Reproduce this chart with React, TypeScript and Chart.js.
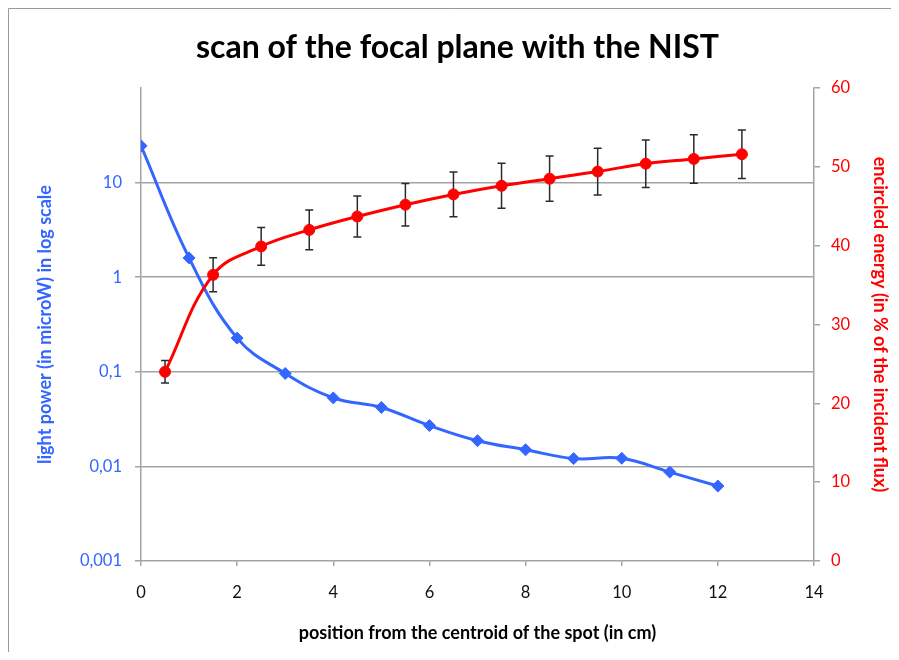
import React, { useEffect, useRef } from 'react';
import { Chart, registerables } from 'chart.js';

Chart.register(...registerables);

const TITLE = 'scan of the focal plane with the NIST';
const X_TITLE = 'position from the centroid of the spot (in cm)';
const Y_LEFT_TITLE = 'light power (in microW) in log scale';
const Y_RIGHT_TITLE = 'encircled energy (in % of the incident flux)';

const powerX = [0, 1, 2, 3, 4, 5, 6, 7, 8, 9, 10, 11, 12];
const powerY = [24.5, 1.6, 0.227, 0.096, 0.053, 0.042, 0.027, 0.0187, 0.015, 0.0121, 0.0122, 0.0087, 0.0062];

const energyX = [0.5, 1.5, 2.5, 3.5, 4.5, 5.5, 6.5, 7.5, 8.5, 9.5, 10.5, 11.5, 12.5];
const energyY = [24.0, 36.3, 39.9, 42.0, 43.7, 45.2, 46.5, 47.6, 48.5, 49.4, 50.4, 51.0, 51.6];
const energyErr = [1.43, 2.16, 2.39, 2.51, 2.6, 2.7, 2.83, 2.86, 2.88, 2.96, 3.01, 3.08, 3.08];

const logTicks = [0.001, 0.01, 0.1, 1, 10, 100];
const logTickLabels = ['0,001', '0,01', '0,1', '1', '10', ''];

const BLUE = '#3366ff';
const RED = '#ff0000';
const GRID = '#a3a3a3';

const errorBars = {
  id: 'errorBars',
  beforeDatasetsDraw(chart: any) {
    const { ctx } = chart;
    const xs = chart.scales.x;
    const yr = chart.scales.yR;
    ctx.save();
    ctx.strokeStyle = '#2a2a2a';
    ctx.lineWidth = 1.5;
    energyX.forEach((xv, i) => {
      const px = xs.getPixelForValue(xv);
      const top = yr.getPixelForValue(energyY[i] + energyErr[i]);
      const bot = yr.getPixelForValue(energyY[i] - energyErr[i]);
      ctx.beginPath();
      ctx.moveTo(px, top);
      ctx.lineTo(px, bot);
      ctx.moveTo(px - 4, top);
      ctx.lineTo(px + 4, top);
      ctx.moveTo(px - 4, bot);
      ctx.lineTo(px + 4, bot);
      ctx.stroke();
    });
    ctx.restore();
  },
};

const frame = {
  id: 'frame',
  beforeDraw(chart: any) {
    const { ctx, width, height } = chart;
    ctx.save();
    ctx.strokeStyle = '#9a9a9a';
    ctx.lineWidth = 1;
    ctx.beginPath();
    ctx.moveTo(0.5, height);
    ctx.lineTo(0.5, 0.5);
    ctx.lineTo(width, 0.5);
    ctx.stroke();
    ctx.restore();
  },
};

export default function App() {
  const ref = useRef<HTMLCanvasElement | null>(null);

  useEffect(() => {
    if (!ref.current) return;
    Chart.defaults.font.family = 'Lato';
    const chart = new Chart(ref.current, {
      type: 'line',
      data: {
        datasets: [
          {
            label: 'encircled energy',
            data: energyX.map((x, i) => ({ x, y: energyY[i] })),
            yAxisID: 'yR',
            borderColor: RED,
            backgroundColor: RED,
            borderWidth: 3,
            pointStyle: 'circle',
            pointRadius: 5.5,
            pointBorderWidth: 1,
            tension: 0.4,
          },
          {
            label: 'light power',
            data: powerX.map((x, i) => ({ x, y: powerY[i] })),
            yAxisID: 'yL',
            borderColor: BLUE,
            backgroundColor: BLUE,
            borderWidth: 3,
            pointStyle: 'rectRot',
            pointRadius: 6,
            pointBorderWidth: 1,
            tension: 0.4,
          },
        ],
      },
      options: {
        animation: false,
        responsive: false,
        layout: { padding: { left: 16, right: 0, top: 0, bottom: 0 } },
        plugins: {
          legend: { display: false },
          tooltip: { enabled: false },
          title: {
            display: true,
            text: TITLE,
            color: '#000',
            font: { family: 'Lato', size: 32, weight: 'bold' },
            padding: { top: 20, bottom: 21.6 },
          },
        },
        scales: {
          x: {
            type: 'linear',
            min: 0,
            max: 14,
            ticks: {
              stepSize: 2,
              color: '#111',
              font: { family: 'Lato', size: 16.5 },
              padding: 17,
            },
            grid: {
              drawOnChartArea: false,
              drawTicks: true,
              tickLength: 5,
              color: GRID,
              lineWidth: 1.5,
            },
            border: { color: GRID, width: 1.5 },
            title: {
              display: true,
              text: X_TITLE,
              color: '#000',
              font: { family: 'Lato', size: 18, weight: 'bold' },
              padding: { top: 0, bottom: 8 },
            },
            afterFit(scale: any) {
              scale.height = 91;
            },
          },
          yL: {
            type: 'logarithmic',
            position: 'left',
            min: 0.001,
            max: 100,
            afterBuildTicks(scale: any) {
              scale.ticks = logTicks.map((v) => ({ value: v }));
            },
            ticks: {
              color: BLUE,
              font: { family: 'Lato', size: 16.5 },
              padding: 13,
              autoSkip: false,
              callback: (v: any) => {
                const i = logTicks.findIndex((t) => Math.abs(t - Number(v)) < t * 1e-6);
                return i >= 0 ? logTickLabels[i] : '';
              },
            },
            grid: {
              drawOnChartArea: true,
              drawTicks: true,
              tickLength: 6,
              lineWidth: 1.5,
              color: (ctx: any) => {
                const v = ctx.tick ? ctx.tick.value : null;
                if (v === 100 || v === 0.001) return 'rgba(0,0,0,0)';
                return GRID;
              },
              tickColor: (ctx: any) => {
                const v = ctx.tick ? ctx.tick.value : null;
                if (v === 100) return 'rgba(0,0,0,0)';
                return GRID;
              },
            },
            border: { color: GRID, width: 1.5 },
            title: {
              display: true,
              text: Y_LEFT_TITLE,
              color: BLUE,
              font: { family: 'Lato', size: 18, weight: 'bold' },
              padding: { top: 10, bottom: 0 },
            },
            afterFit(scale: any) {
              scale.width = 117;
            },
          },
          yR: {
            type: 'linear',
            position: 'right',
            min: 0,
            max: 60,
            ticks: {
              stepSize: 10,
              color: RED,
              font: { family: 'Lato', size: 16.5 },
              padding: 11,
            },
            grid: {
              drawOnChartArea: false,
              drawTicks: true,
              tickLength: 6,
              color: GRID,
              lineWidth: 1.5,
            },
            border: { color: GRID, width: 1.5 },
            title: {
              display: true,
              text: Y_RIGHT_TITLE,
              color: RED,
              font: { family: 'Lato', size: 18, weight: 'bold' },
              padding: { top: 0, bottom: 0 },
            },
            afterFit(scale: any) {
              scale.width = 77;
            },
          },
        },
      },
      plugins: [frame, errorBars],
    } as any);
    return () => chart.destroy();
  }, []);

  return (
    <div style={{ width: 883, height: 644 }}>
      <canvas ref={ref} width={883} height={644} style={{ display: 'block' }} />
    </div>
  );
}
